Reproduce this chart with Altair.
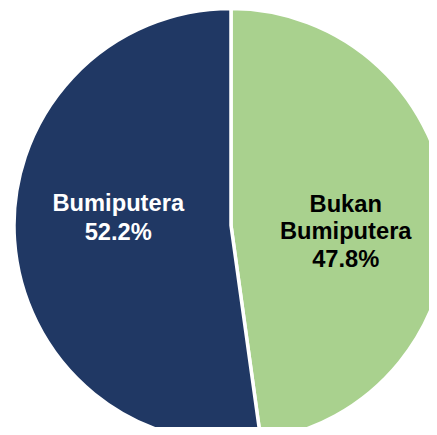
import altair as alt
import pandas as pd

categories = ["Bukan Bumiputera", "Bumiputera"]
shares = [47.8, 52.2]
labels = ["Bukan\nBumiputera\n47.8%", "Bumiputera\n52.2%"]
order = [0, 1]
colors = ["#A9D18E", "#203864"]

df = pd.DataFrame({"cat": categories, "share": shares, "label": labels, "ord": order})

W, H = 421, 419
CX, CY = 223, 217.5

base = alt.Chart(df).encode(
    theta=alt.Theta("share:Q", stack=True),
    order=alt.Order("ord:Q"),
    x=alt.value(CX),
    y=alt.value(CY),
)

pie = base.mark_arc(radius=217, stroke="white", strokeWidth=3.5).encode(
    color=alt.Color("cat:N", scale=alt.Scale(domain=categories, range=colors), legend=None)
)

txt_bukan = base.mark_text(
    radius=115, dy=-13, font="Liberation Sans", fontSize=23.7, fontWeight="bold",
    lineBreak="\n", lineHeight=27.5, color="black", align="center", baseline="middle"
).encode(text="label:N", opacity=alt.condition(alt.datum.cat == "Bukan Bumiputera", alt.value(1), alt.value(0)))

txt_bumi = base.mark_text(
    radius=113, dy=-29, font="Liberation Sans", fontSize=23.7, fontWeight="bold",
    lineBreak="\n", lineHeight=28.5, color="white", align="center", baseline="middle"
).encode(text="label:N", opacity=alt.condition(alt.datum.cat == "Bumiputera", alt.value(1), alt.value(0)))

chart = alt.layer(pie, txt_bukan, txt_bumi).properties(
    width=W, height=H, autosize=alt.AutoSizeParams(type="none"), padding=0
).configure_view(stroke=None)

chart.save("out.html", embed_options={"renderer": "svg", "actions": False})
